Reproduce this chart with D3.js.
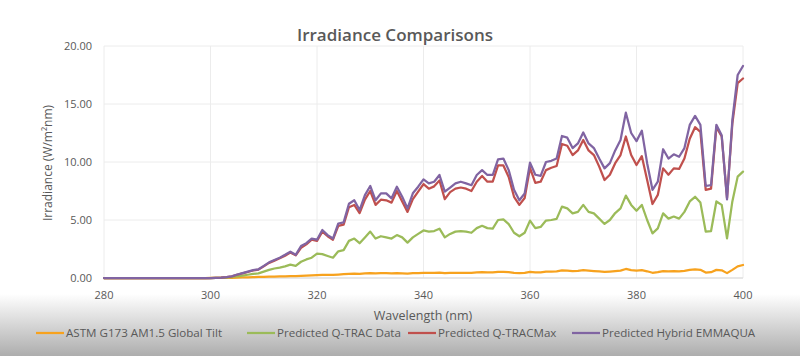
<!DOCTYPE html>
<html>
<head>
<meta charset="utf-8">
<script src="https://cdn.jsdelivr.net/npm/d3@7/dist/d3.min.js"></script>
<style>
  html, body { margin: 0; padding: 0; background: #ffffff; }
  svg { display: block; }
  text { font-family: "Open Sans", "Liberation Sans", sans-serif; }
</style>
</head>
<body>
<svg id="chart" width="800" height="356"></svg>
<script>
// ---------- DATA ----------
const wavelengths = d3.range(280, 401); // 280..400 nm, 1 nm steps

const astmG173 = [
  0,0,0,0,0,0,0,0,0,0, 0,0,0,0,0,0,0,0,0,0,
  0.001,0.003,0.006,0.01,0.02,0.03,0.045,0.06,0.075,0.09,
  0.10,0.11,0.125,0.14,0.15,0.16,0.17,0.19,0.20,0.22,
  0.24,0.26,0.27,0.28,0.30,0.33,0.36,0.38,0.36,0.40,
  0.42,0.40,0.41,0.41,0.40,0.42,0.40,0.38,0.41,0.43,
  0.45,0.44,0.45,0.46,0.42,0.44,0.45,0.45,0.45,0.45,
  0.48,0.50,0.48,0.48,0.52,0.52,0.50,0.45,0.43,0.45,
  0.52,0.48,0.49,0.55,0.56,0.57,0.65,0.63,0.60,0.62,
  0.67,0.63,0.60,0.57,0.53,0.56,0.60,0.64,0.78,0.68,
  0.64,0.67,0.58,0.45,0.50,0.60,0.57,0.59,0.58,0.62,
  0.70,0.74,0.71,0.47,0.50,0.70,0.66,0.42,0.70,1.00,
  1.12
];

const qtracData = [
  0,0,0,0,0,0,0,0,0,0, 0,0,0,0,0,0,0,0,0,0,
  0,0.005,0.015,0.04,0.08,0.15,0.20,0.28,0.35,0.40,
  0.55,0.70,0.82,0.90,1.00,1.15,1.05,1.40,1.60,1.75,
  2.10,2.06,1.90,1.75,2.30,2.40,3.20,3.40,3.00,3.50,
  4.00,3.40,3.60,3.50,3.40,3.70,3.50,3.05,3.50,3.80,
  4.10,4.00,4.05,4.25,3.50,3.80,4.00,4.05,4.00,3.90,
  4.30,4.50,4.30,4.25,5.00,5.05,4.65,3.90,3.60,3.90,
  4.95,4.30,4.40,4.95,5.00,5.10,6.15,6.00,5.57,5.70,
  6.30,5.70,5.57,5.12,4.66,5.00,5.60,6.00,7.10,6.30,
  5.80,6.30,5.00,3.85,4.28,5.57,5.12,5.30,5.12,5.70,
  6.60,7.00,6.50,4.00,4.05,6.60,6.30,3.42,6.60,8.74,
  9.17
];

const qtracMax = [
  0,0,0,0,0,0,0,0,0,0, 0,0,0,0,0,0,0,0,0,0,
  0,0.01,0.03,0.07,0.14,0.28,0.40,0.52,0.65,0.72,
  1.00,1.30,1.50,1.70,1.92,2.20,1.95,2.60,2.90,3.30,
  3.20,4.00,3.60,3.30,4.50,4.60,6.10,6.30,5.60,6.75,
  7.50,6.30,6.75,6.70,6.50,7.50,6.60,5.70,6.80,7.45,
  8.10,7.70,7.90,8.40,6.80,7.40,7.70,7.80,7.70,7.50,
  8.30,8.80,8.30,8.30,9.70,9.70,8.70,7.00,6.30,6.90,
  9.50,8.20,8.30,9.30,9.50,9.66,11.55,11.40,10.60,11.00,
  11.90,11.00,10.60,9.60,8.45,8.90,9.90,10.60,12.20,10.60,
  9.74,10.50,8.45,6.38,7.16,9.45,8.90,9.45,9.40,10.30,
  12.00,13.00,12.60,7.60,7.70,13.00,12.20,6.90,13.30,16.80,
  17.20
];

const hybridEmmaqua = [
  0,0,0,0,0,0,0,0,0,0, 0,0,0,0,0,0,0,0,0,0,
  0,0.01,0.03,0.08,0.15,0.30,0.42,0.55,0.68,0.75,
  1.05,1.35,1.55,1.75,2.00,2.27,2.00,2.75,3.00,3.40,
  3.30,4.14,3.70,3.40,4.70,4.80,6.40,6.70,5.86,7.15,
  7.93,6.70,7.30,7.30,6.87,7.87,7.00,6.00,7.30,7.87,
  8.50,8.16,8.30,8.88,7.44,7.80,8.16,8.30,8.16,8.00,
  8.88,9.30,8.88,8.88,10.23,10.30,9.30,7.60,6.70,7.30,
  9.95,8.90,8.80,10.00,10.10,10.30,12.24,12.10,11.20,11.60,
  12.55,11.60,11.20,10.30,9.45,9.90,11.00,11.90,14.25,12.50,
  11.80,12.70,9.90,7.60,8.30,11.10,10.30,10.66,10.45,11.20,
  13.20,13.97,13.20,7.93,8.00,13.20,12.30,6.78,13.60,17.50,
  18.28
];

const xTicks = [280, 300, 320, 340, 360, 380, 400];
const yTicks = [0, 5, 10, 15, 20];

const seriesNames = [
  "ASTM G173 AM1.5 Global Tilt",
  "Predicted Q-TRAC Data",
  "Predicted Q-TRACMax",
  "Predicted Hybrid EMMAQUA"
];
const seriesValues = [astmG173, qtracData, qtracMax, hybridEmmaqua];
const seriesColors = ["#f7a21e", "#9bbb59", "#c0504d", "#8064a2"];

// ---------- CHART ----------
const svg = d3.select("#chart");
const textColor = "#595959";

// bottom grey gradient (video frame shading)
const defs = svg.append("defs");
const grad = defs.append("linearGradient")
  .attr("id", "bottomShade").attr("x1", 0).attr("y1", 0).attr("x2", 0).attr("y2", 1);
grad.append("stop").attr("offset", "0%").attr("stop-color", "#ffffff");
grad.append("stop").attr("offset", "100%").attr("stop-color", "#adadad");
svg.append("rect").attr("x", 0).attr("y", 294).attr("width", 800).attr("height", 62)
  .attr("fill", "url(#bottomShade)");

const x = d3.scaleLinear().domain([280, 400]).range([104, 743]);
const y = d3.scaleLinear().domain([0, 20]).range([278, 46]);

// gridlines
svg.append("g").selectAll("line.h").data(yTicks).join("line")
  .attr("x1", x(280)).attr("x2", x(400))
  .attr("y1", d => y(d)).attr("y2", d => y(d))
  .attr("stroke", "#ececec").attr("stroke-width", 1);
svg.append("g").selectAll("line.v").data(xTicks).join("line")
  .attr("x1", d => x(d)).attr("x2", d => x(d))
  .attr("y1", y(0)).attr("y2", y(20))
  .attr("stroke", "#ececec").attr("stroke-width", 1);
// axis line
svg.append("line").attr("x1", x(280)).attr("x2", x(400))
  .attr("y1", y(0)).attr("y2", y(0)).attr("stroke", "#d9d9d9");

// y tick labels
svg.append("g").selectAll("text").data(yTicks).join("text")
  .attr("x", 92).attr("y", d => y(d)).attr("dy", "0.35em")
  .attr("text-anchor", "end").attr("font-size", 11).attr("fill", textColor)
  .text(d => d3.format(".2f")(d));

// x tick labels
svg.append("g").selectAll("text").data(xTicks).join("text")
  .attr("x", d => x(d)).attr("y", 295).attr("dy", "0.35em")
  .attr("text-anchor", "middle").attr("font-size", 11).attr("fill", textColor)
  .text(d => d);

// lines
const line = d3.line().x((d, i) => x(wavelengths[i])).y(d => y(d));
seriesValues.forEach((vals, k) => {
  svg.append("path").datum(vals)
    .attr("d", line)
    .attr("fill", "none")
    .attr("stroke", seriesColors[k])
    .attr("stroke-width", 2.25)
    .attr("stroke-linejoin", "round")
    .attr("stroke-linecap", "round");
});

// title
svg.append("text").attr("x", 395).attr("y", 41)
  .attr("text-anchor", "middle").attr("font-size", 17).attr("font-weight", 600)
  .attr("fill", textColor).text("Irradiance Comparisons");

// axis titles
svg.append("text")
  .attr("transform", "translate(52,163) rotate(-90)")
  .attr("text-anchor", "middle").attr("font-size", 12).attr("fill", textColor)
  .text("Irradiance (W/m²nm)");
svg.append("text").attr("x", 423).attr("y", 316).attr("dy", "0.35em")
  .attr("text-anchor", "middle").attr("font-size", 12.5).attr("fill", textColor)
  .text("Wavelength (nm)");

// legend
const legendX = [36, 247, 408, 572];
const lg = svg.append("g");
seriesNames.forEach((name, k) => {
  const g = lg.append("g").attr("transform", `translate(${legendX[k]},333)`);
  g.append("line").attr("x1", 0).attr("x2", 28).attr("y1", 0).attr("y2", 0)
    .attr("stroke", seriesColors[k]).attr("stroke-width", 2.25);
  g.append("text").attr("x", 30).attr("y", 0).attr("dy", "0.35em")
    .attr("font-size", 11.6).attr("fill", textColor).text(name);
});
</script>
</body>
</html>
